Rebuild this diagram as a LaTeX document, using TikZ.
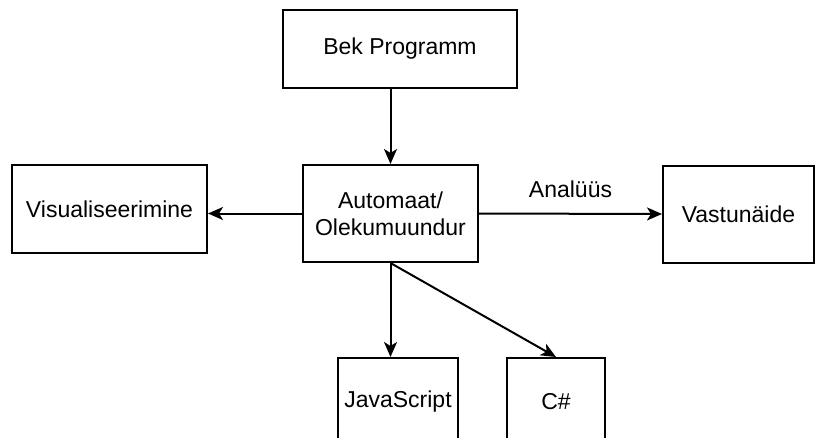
\documentclass[tikz,border=0pt]{standalone}
\usepackage{fontspec}
\setmainfont{Liberation Sans}
\usetikzlibrary{arrows.meta}
\tikzset{>={Stealth[length=15pt,width=13pt,inset=4pt]}}
\tikzset{
  box/.style={draw, line width=2pt, rectangle, align=center,
    font=\fontsize{23}{27}\selectfont, inner sep=0pt},
  link/.style={->, line width=2pt},
}

\begin{document}
\begin{tikzpicture}[x=1pt, y=-1pt]
  \useasboundingbox (0,0) rectangle (815,437);
  % blocks
  \node[box, minimum width=234pt, minimum height=78pt] (bek) at (400,48.5) {Bek Programm};
  \node[box, minimum width=175pt, minimum height=97pt] (auto) at (390.5,213.5) {Automaat/\\Olekumuundur};
  \node[box, minimum width=195pt, minimum height=88pt] (vis) at (109.5,209) {Visualiseerimine};
  \node[box, minimum width=151pt, minimum height=97pt] (vast) at (738.5,214) {Vastunäide};
  \node[box, minimum width=120pt, minimum height=88pt] (js) at (398,402) {JavaScript};
  \node[box, minimum width=98pt, minimum height=88pt] (cs) at (556,402) {C\#};
  % arrows
  \draw[link] (auto.north |- bek.south) -- (auto.north);
  \draw[link] (auto.west) -- (auto.west -| vis.east);
  \draw[link] (auto.east) -- node[above=12pt, font=\fontsize{23}{27}\selectfont] (ana) {Analüüs} (vast.west);
  \draw[link] (auto.south) -- (auto.south |- js.north);
  \draw[link] (auto.south) -- (cs.north);
\end{tikzpicture}
\end{document}
